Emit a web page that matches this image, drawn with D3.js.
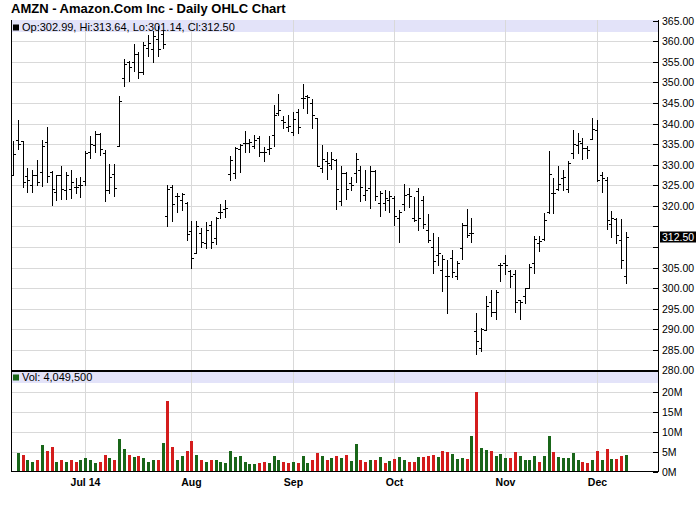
<!DOCTYPE html>
<html><head><meta charset="utf-8">
<script src="https://cdn.jsdelivr.net/npm/d3@7/dist/d3.min.js"></script>
<style>body{margin:0;background:#fff}svg{display:block;font-family:"Liberation Sans",Arial,Helvetica,sans-serif}</style>
</head><body><svg id="c" width="700" height="512"></svg>
<script>
const dates = [
"2014-06-10","2014-06-11","2014-06-12","2014-06-13","2014-06-16","2014-06-17","2014-06-18","2014-06-19","2014-06-20","2014-06-23","2014-06-24","2014-06-25","2014-06-26","2014-06-27","2014-06-30",
"2014-07-01","2014-07-02","2014-07-03","2014-07-07","2014-07-08","2014-07-09","2014-07-10","2014-07-11","2014-07-14","2014-07-15","2014-07-16","2014-07-17","2014-07-18","2014-07-21","2014-07-22","2014-07-23","2014-07-24","2014-07-25","2014-07-28","2014-07-29","2014-07-30","2014-07-31",
"2014-08-01","2014-08-04","2014-08-05","2014-08-06","2014-08-07","2014-08-08","2014-08-11","2014-08-12","2014-08-13","2014-08-14","2014-08-15","2014-08-18","2014-08-19","2014-08-20","2014-08-21","2014-08-22","2014-08-25","2014-08-26","2014-08-27","2014-08-28","2014-08-29",
"2014-09-02","2014-09-03","2014-09-04","2014-09-05","2014-09-08","2014-09-09","2014-09-10","2014-09-11","2014-09-12","2014-09-15","2014-09-16","2014-09-17","2014-09-18","2014-09-19","2014-09-22","2014-09-23","2014-09-24","2014-09-25","2014-09-26","2014-09-29","2014-09-30",
"2014-10-01","2014-10-02","2014-10-03","2014-10-06","2014-10-07","2014-10-08","2014-10-09","2014-10-10","2014-10-13","2014-10-14","2014-10-15","2014-10-16","2014-10-17","2014-10-20","2014-10-21","2014-10-22","2014-10-23","2014-10-24","2014-10-27","2014-10-28","2014-10-29","2014-10-30","2014-10-31",
"2014-11-03","2014-11-04","2014-11-05","2014-11-06","2014-11-07","2014-11-10","2014-11-11","2014-11-12","2014-11-13","2014-11-14","2014-11-17","2014-11-18","2014-11-19","2014-11-20","2014-11-21","2014-11-24","2014-11-25","2014-11-26","2014-11-28",
"2014-12-01","2014-12-02","2014-12-03","2014-12-04","2014-12-05","2014-12-08","2014-12-09"];

const opens = [327.6,336.1,335.7,327.2,325.0,327.6,328.2,335.6,328.2,323.3,
327.6,323.8,324.2,324.7,325.0,326.0,333.1,334.9,337.5,332.8,
323.8,327.8,334.6,351.0,354.9,354.9,356.9,352.5,358.5,358.1,
360.6,361.8,317.6,324.7,322.3,321.5,320.6,314.0,308.5,313.5,
310.9,315.4,312.1,318.4,319.2,327.7,327.9,333.8,335.2,335.2,
334.6,336.5,333.2,333.8,337.3,342.5,340.8,339.2,338.0,342.9,
346.2,346.6,344.9,341.4,329.1,330.8,330.0,331.2,321.1,328.1,
325.5,327.9,328.8,322.7,324.3,328.4,320.6,320.8,321.3,321.9,
317.0,320.5,322.9,317.0,323.5,321.5,314.2,309.9,308.1,304.4,
303.0,307.3,303.0,309.7,315.4,313.5,289.5,285.4,289.9,296.5,
294.3,305.5,306.1,304.1,303.5,297.0,298.0,300.0,306.1,311.0,
311.9,318.5,323.1,324.1,326.8,324.0,332.9,334.9,335.3,334.1,
336.3,338.5,327.6,326.4,315.7,316.8,311.8,302.99];

const highs = [335.7,340.8,335.7,329.3,328.6,331.2,335.9,339.2,328.4,327.6,
329.8,328.2,328.6,326.8,327.0,333.3,337.1,338.3,337.7,333.6,
330.2,330.1,346.8,355.7,355.3,359.4,357.3,359.8,361.6,362.4,
363.8,362.6,325.1,325.1,323.2,323.1,321.0,316.2,316.4,314.6,
316.0,316.2,317.4,320.5,321.5,332.0,334.3,335.1,338.1,336.2,
337.3,336.9,334.3,337.0,344.6,347.2,341.9,342.1,342.7,343.5,
349.7,347.0,345.9,341.4,334.8,333.0,333.0,331.4,329.7,328.3,
327.1,332.8,329.7,328.6,329.6,328.8,323.5,323.9,323.5,322.3,
318.9,325.3,324.3,322.1,324.3,322.4,318.0,313.3,312.5,308.1,
306.9,309.3,306.5,315.8,319.2,317.0,293.9,290.4,298.0,299.6,
299.6,306.1,308.1,304.5,304.3,297.2,300.0,305.9,312.6,312.6,
318.3,333.3,326.8,329.8,328.6,330.8,338.5,337.6,336.5,334.6,
341.4,340.8,328.2,327.0,318.7,317.0,316.8,313.64];

const lows = [327.6,333.9,324.6,323.3,323.3,325.0,324.8,325.8,320.1,321.5,
321.7,321.6,321.9,323.1,322.1,325.0,331.7,333.1,332.4,321.2,
323.1,322.5,334.6,349.2,350.4,352.9,351.2,352.1,356.5,355.1,
356.5,358.5,315.0,316.4,318.6,319.0,311.7,305.0,308.5,310.1,
309.7,309.7,310.7,317.0,317.4,326.3,326.7,328.3,333.0,333.2,
334.0,332.0,331.0,332.6,334.6,342.1,338.9,338.1,337.3,337.8,
343.8,342.5,338.9,329.6,328.3,326.5,328.9,319.2,320.2,321.6,
323.9,325.9,321.1,321.5,319.4,321.3,317.6,319.0,318.6,315.4,
311.3,318.9,319.7,316.3,314.2,314.6,311.3,303.6,305.6,299.2,
293.9,302.8,302.2,307.0,312.5,311.3,284.0,284.8,289.9,293.1,
292.4,301.6,303.5,300.3,294.1,292.5,296.4,300.0,303.7,308.9,
311.8,318.3,318.3,323.9,323.9,323.3,331.6,332.9,331.4,331.6,
336.3,326.0,323.3,314.4,312.4,311.0,304.9,301.14];

const closes = [332.5,335.0,325.9,326.2,327.6,325.8,334.5,327.2,324.2,327.4,
324.2,327.4,325.8,324.7,325.0,332.8,335.1,337.5,333.7,323.8,
327.0,324.4,345.6,354.5,353.8,356.9,352.5,359.0,359.6,361.4,
358.1,359.4,324.2,320.5,322.5,322.9,313.2,307.3,315.0,311.1,
314.1,311.3,317.0,318.6,319.4,331.2,334.0,334.9,335.4,335.6,
336.0,333.2,333.0,334.0,342.1,343.2,340.3,339.4,341.0,339.2,
346.2,346.5,342.2,329.8,331.3,330.4,331.4,324.1,327.9,324.1,
325.1,331.4,324.7,323.9,328.4,322.3,323.1,321.9,322.3,317.6,
318.4,322.7,322.3,316.5,317.0,315.6,311.7,306.5,308.5,307.0,
303.0,303.8,306.2,315.4,312.9,313.3,287.1,290.0,295.6,294.1,
299.1,305.5,305.7,302.9,296.5,296.7,299.9,305.1,312.0,311.5,
316.5,327.8,323.1,325.2,327.0,330.4,335.0,335.7,334.1,333.6,
338.7,326.2,326.8,316.6,317.0,313.0,306.9,312.50];

// volume in millions of shares
const volumes = [null,4.6,4.3,2.8,2.5,3.0,6.6,5.3,6.1,2.5,
2.8,2.4,2.8,2.5,2.8,3.3,2.8,2.1,2.4,4.3,
3.3,2.8,8.3,5.6,4.3,3.6,3.8,3.5,2.4,3.0,
2.8,7.2,17.9,6.1,3.0,4.0,5.3,7.7,4.3,2.8,
2.4,3.0,2.8,2.5,2.1,5.1,3.6,4.0,2.5,1.8,
1.8,2.1,2.3,2.1,3.8,3.0,2.4,2.1,2.4,2.1,
4.0,2.1,3.0,4.8,3.8,2.8,3.5,4.0,3.3,4.3,
2.6,7.0,2.9,2.4,2.8,2.9,3.6,2.1,2.6,3.2,
3.6,3.0,2.4,2.4,3.6,3.6,3.9,4.3,3.6,5.3,
4.9,4.5,3.2,3.5,3.2,9.1,20.0,6.0,5.5,5.1,
4.0,4.5,3.3,3.5,4.9,3.8,2.8,2.8,3.8,2.4,
3.8,9.1,4.9,3.6,3.4,3.5,4.6,2.8,2.5,2.1,
3.0,5.1,2.8,5.7,3.2,3.2,3.8,4.0495];

const monthStarts = ["2014-07-01","2014-08-01","2014-09-02","2014-10-01","2014-11-03","2014-12-01"];
const monthLabels = ["Jul 14","Aug","Sep","Oct","Nov","Dec"];
const priceTicks = d3.range(280, 365.01, 5);
const volTicks = [0,5,10,15,20];
const volTickLabels = ["0M","5M","10M","15M","20M"];
const title = "AMZN - Amazon.Com Inc - Daily OHLC Chart";

const svg = d3.select("#c");
const L = 11, R = 658;
const GREEN = "#196619", RED = "#d41c1c", GRID = "#d9d9d9", BAND = "#e3e3f9";
const n = dates.length;
const x = d3.scaleLinear().domain([0, n - 1]).range([12.9, 625.9]);
const yP = d3.scaleLinear().domain([280, 365]).range([370.3, 20.8]);
const yV = d3.scaleLinear().domain([0, 25]).range([471.5, 372.7]);
const px = i => Math.round(x(i)) + 0.5;
const crisp = v => Math.round(v) + 0.5;

svg.append("rect").attr("width", 700).attr("height", 512).attr("fill", "#fff");

// title
svg.append("text").attr("x", 11).attr("y", 12.5).attr("font-size", 13).attr("font-weight", "bold").attr("fill", "#000").text(title);

// bands
svg.append("rect").attr("x", L).attr("y", 20).attr("width", R - L).attr("height", 12).attr("fill", BAND);
svg.append("rect").attr("x", L).attr("y", 371.5).attr("width", R - L).attr("height", 11.5).attr("fill", BAND);

// horizontal gridlines
const g = svg.append("g").attr("stroke", GRID).attr("stroke-width", 1).attr("shape-rendering", "crispEdges");
priceTicks.filter(v => v > 280 && v < 365).forEach(v => {
  g.append("line").attr("x1", L).attr("x2", R).attr("y1", crisp(yP(v))).attr("y2", crisp(yP(v)));
});
volTicks.filter(v => v > 0).forEach(v => {
  g.append("line").attr("x1", L).attr("x2", R).attr("y1", crisp(yV(v))).attr("y2", crisp(yV(v)));
});
// vertical gridlines at month starts
const monthIdx = monthStarts.map(d => dates.indexOf(d));
monthIdx.forEach(i => {
  g.append("line").attr("x1", px(i)).attr("x2", px(i)).attr("y1", 20).attr("y2", 471);
});

// legends
svg.append("rect").attr("x", 13).attr("y", 24.5).attr("width", 6).attr("height", 6).attr("fill", "#000");
const last = n - 1;
svg.append("text").attr("x", 22).attr("y", 30.5).attr("font-size", 11).attr("fill", "#000")
  .text(`Op:${opens[last].toFixed(2)}, Hi:${highs[last].toFixed(2)}, Lo:${lows[last].toFixed(2)}, Cl:${closes[last].toFixed(2)}`);
svg.append("rect").attr("x", 13).attr("y", 374.5).attr("width", 6).attr("height", 6).attr("fill", GREEN);
svg.append("text").attr("x", 22).attr("y", 381).attr("font-size", 11).attr("fill", "#000")
  .text("Vol: " + d3.format(",")(Math.round(volumes[last] * 1e6)));

// OHLC bars
const bars = svg.append("g").attr("stroke", "#000").attr("stroke-width", 1).attr("shape-rendering", "crispEdges").attr("fill", "none");
d3.range(n).forEach(i => {
  const xx = px(i);
  bars.append("path").attr("d",
    `M${xx},${Math.round(yP(highs[i]))}V${Math.round(yP(lows[i])) + 1}` +
    `M${xx - 2.5},${crisp(yP(opens[i]))}H${xx}` +
    `M${xx},${crisp(yP(closes[i]))}H${xx + 2.5}`);
});

// volume bars
const vb = svg.append("g").attr("shape-rendering", "crispEdges");
d3.range(n).forEach(i => {
  if (volumes[i] == null) return;
  const up = i === 0 || closes[i] >= closes[i - 1];
  const xx = Math.round(x(i)) - 1;
  const top = Math.round(yV(volumes[i]));
  vb.append("rect").attr("x", xx).attr("y", top).attr("width", 3).attr("height", 471 - top).attr("fill", up ? GREEN : RED);
});

// frame
const f = svg.append("g").attr("stroke", "#000").attr("shape-rendering", "crispEdges");
f.append("line").attr("x1", L + 0.5).attr("x2", L + 0.5).attr("y1", 20).attr("y2", 471.5);
f.append("line").attr("x1", R + 0.5).attr("x2", R + 0.5).attr("y1", 20).attr("y2", 472);
f.append("line").attr("x1", L).attr("x2", R + 1).attr("y1", 471.5).attr("y2", 471.5);
f.append("rect").attr("x", L).attr("y", 369.5).attr("width", R - L + 1).attr("height", 2).attr("fill", "#000").attr("stroke", "none");

// right axis ticks
priceTicks.forEach(v => {
  f.append("line").attr("x1", R - 5).attr("x2", R).attr("y1", crisp(yP(v))).attr("y2", crisp(yP(v)));
});
volTicks.forEach(v => {
  f.append("line").attr("x1", R - 5).attr("x2", R).attr("y1", crisp(yV(v))).attr("y2", crisp(yV(v)));
});

// right axis labels
const lastY = yP(closes[last]);
const lab = svg.append("g").attr("font-size", 10.5).attr("fill", "#000");
priceTicks.forEach(v => {
  if (Math.abs(yP(v) - lastY) < 11) return;
  lab.append("text").attr("x", 662).attr("y", yP(v) + 4).text(v.toFixed(2));
});
volTicks.forEach((v, k) => {
  lab.append("text").attr("x", 662).attr("y", yV(v) + 4).text(volTickLabels[k]);
});
// last close marker
svg.append("rect").attr("x", 660).attr("y", Math.round(lastY) - 5.5).attr("width", 36).attr("height", 11).attr("fill", "#000");
svg.append("text").attr("x", 662).attr("y", lastY + 4).attr("font-size", 10.5).attr("fill", "#fff").text(closes[last].toFixed(2));

// x labels
const xl = svg.append("g").attr("font-size", 10.5).attr("font-weight", "bold").attr("text-anchor", "middle").attr("fill", "#000");
monthIdx.forEach((i, k) => {
  xl.append("text").attr("x", px(i)).attr("y", 485.5).text(monthLabels[k]);
});
</script></body></html>
